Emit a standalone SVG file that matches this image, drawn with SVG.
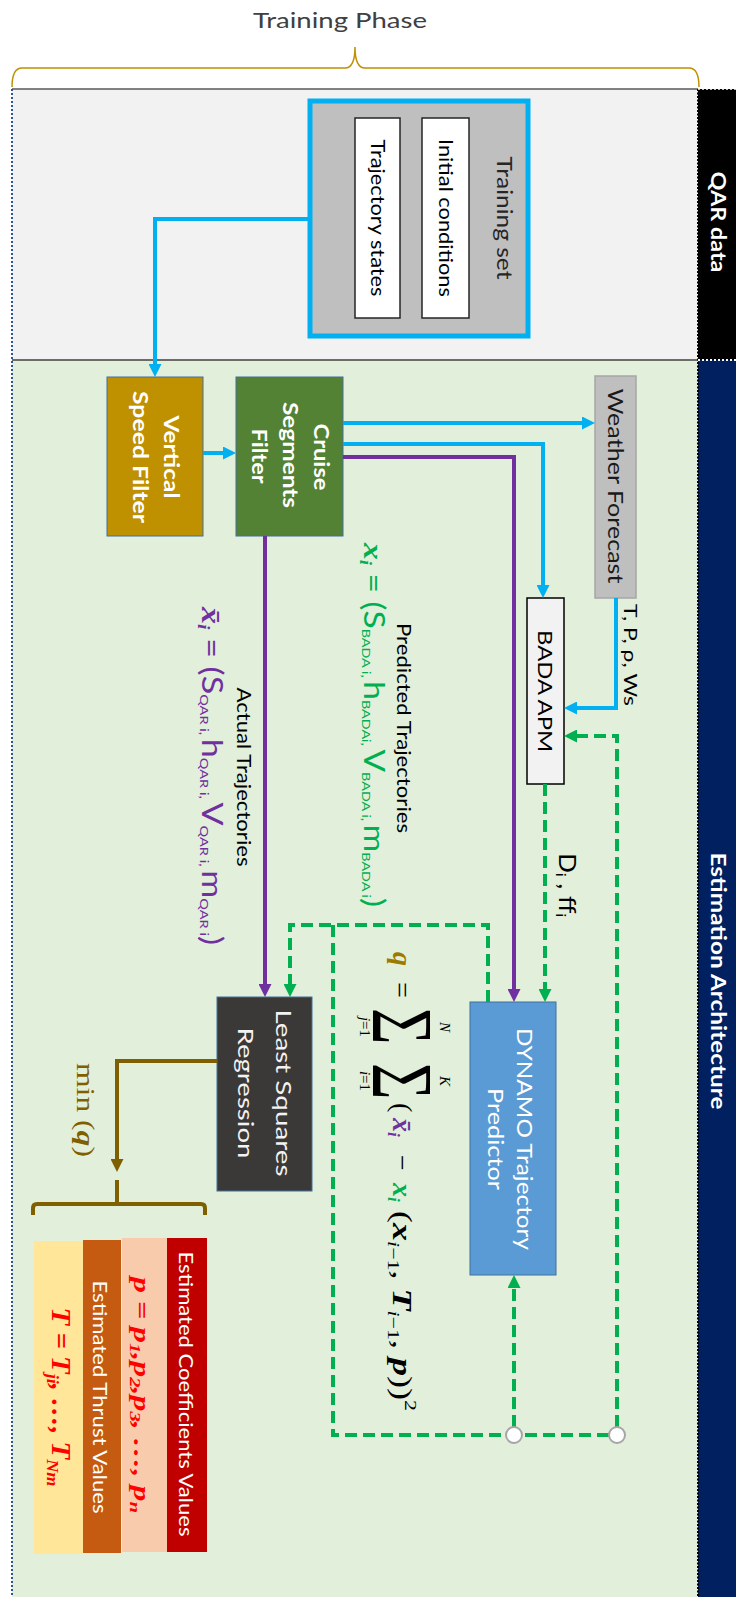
<svg xmlns="http://www.w3.org/2000/svg" width="736" height="1597" viewBox="0 0 736 1597">
<defs>
<style>
.lbl{font-family:Lato,'Liberation Sans',sans-serif;text-anchor:middle;dominant-baseline:central}
.w{fill:#fff}
.k{fill:#000}
.b{font-weight:bold}
.math{font-family:'Liberation Serif','DejaVu Serif',serif}
.bi{font-weight:bold;font-style:italic}
.it{font-style:italic}
.blue{fill:none;stroke:#00b0f0;stroke-width:4}
.purp{fill:none;stroke:#7030a0;stroke-width:4}
.gd{fill:none;stroke:#00b050;stroke-width:4;stroke-dasharray:12 6}
.brn{fill:none;stroke:#7f6000;stroke-width:4}
</style>
<marker id="ab" markerUnits="userSpaceOnUse" markerWidth="13" markerHeight="13" viewBox="0 0 13 13" refX="3" refY="6.5" orient="auto"><path d="M0,0 L13,6.5 L0,13 z" fill="#00b0f0"/></marker>
<marker id="ap" markerUnits="userSpaceOnUse" markerWidth="13" markerHeight="13" viewBox="0 0 13 13" refX="3" refY="6.5" orient="auto"><path d="M0,0 L13,6.5 L0,13 z" fill="#7030a0"/></marker>
<marker id="ag" markerUnits="userSpaceOnUse" markerWidth="13" markerHeight="13" viewBox="0 0 13 13" refX="3" refY="6.5" orient="auto"><path d="M0,0 L13,6.5 L0,13 z" fill="#00b050"/></marker>
<marker id="an" markerUnits="userSpaceOnUse" markerWidth="13" markerHeight="13" viewBox="0 0 13 13" refX="3" refY="6.5" orient="auto"><path d="M0,0 L13,6.5 L0,13 z" fill="#7f6000"/></marker>
</defs>
<rect x="0" y="0" width="736" height="1597" fill="#fff"/>

<g id="training-phase">
<text x="340" y="28" font-family="Lato,'Liberation Sans',sans-serif" font-size="22" fill="#404040" text-anchor="middle" textLength="174" lengthAdjust="spacingAndGlyphs">Training Phase</text>
<path d="M12,87 Q12,68 22,68 H345 Q355,68 355,47 Q355,68 365,68 H689 Q699,68 699,87" fill="none" stroke="#bf9000" stroke-width="1.5"/>
</g>

<g id="panels">
<rect x="12" y="89" width="686" height="271" fill="#f2f2f2"/>
<rect x="12" y="360" width="686" height="1237" fill="#e2efda"/>
<line x1="12" y1="89" x2="698" y2="89" stroke="#595959" stroke-width="1.5"/>
<line x1="12" y1="360" x2="698" y2="360" stroke="#404040" stroke-width="1.5"/>
<line x1="12" y1="89" x2="12" y2="1597" stroke="#2f5597" stroke-width="2" stroke-dasharray="2 2"/>
<rect x="698" y="89" width="38" height="271" fill="#000"/>
<rect x="698" y="360" width="38" height="1237" fill="#002060"/>
<line x1="698" y1="89" x2="698" y2="1597" stroke="#000" stroke-width="2" stroke-dasharray="2 1.5"/>
<line x1="698" y1="89" x2="736" y2="89" stroke="#fff" stroke-width="1.5" stroke-dasharray="2 2"/>
<line x1="698" y1="360" x2="736" y2="360" stroke="#fff" stroke-width="2" stroke-dasharray="2 2"/>
<text class="lbl w b" font-size="21" transform="translate(719,222) rotate(90)" textLength="101" lengthAdjust="spacingAndGlyphs">QAR data</text>
<text class="lbl w b" font-size="21" transform="translate(719,981) rotate(90)" textLength="257" lengthAdjust="spacingAndGlyphs">Estimation Architecture</text>
</g>

<g id="training-set">
<rect x="310" y="101" width="218" height="235" fill="#bfbfbf" stroke="#00b0f0" stroke-width="5"/>
<text class="lbl" fill="#262626" font-size="21" transform="translate(505,218) rotate(90)" textLength="123" lengthAdjust="spacingAndGlyphs">Training set</text>
</g>
<g id="initial-conditions">
<rect x="422" y="118" width="47" height="200" fill="#fff" stroke="#262626" stroke-width="1.5"/>
<text class="lbl k" font-size="19" transform="translate(446,218) rotate(90)" textLength="158" lengthAdjust="spacingAndGlyphs">Initial conditions</text>
</g>
<g id="trajectory-states">
<rect x="355" y="118" width="45" height="200" fill="#fff" stroke="#262626" stroke-width="1.5"/>
<text class="lbl k" font-size="19" transform="translate(378,218) rotate(90)" textLength="157" lengthAdjust="spacingAndGlyphs">Trajectory states</text>
</g>

<g id="vertical-speed-filter">
<rect x="107" y="377" width="96" height="159" fill="#bf9000" stroke="#41719c" stroke-width="1"/>
<text class="lbl w b" font-size="21" transform="translate(172,457) rotate(90)" textLength="83" lengthAdjust="spacingAndGlyphs">Vertical</text>
<text class="lbl w b" font-size="21" transform="translate(141,457) rotate(90)" textLength="132" lengthAdjust="spacingAndGlyphs">Speed Filter</text>
</g>
<g id="cruise-segments-filter">
<rect x="236" y="377" width="107" height="159" fill="#548235" stroke="#41719c" stroke-width="1"/>
<text class="lbl w b" font-size="21" transform="translate(322,457) rotate(90)" textLength="67" lengthAdjust="spacingAndGlyphs">Cruise</text>
<text class="lbl w b" font-size="21" transform="translate(291,455) rotate(90)" textLength="106" lengthAdjust="spacingAndGlyphs">Segments</text>
<text class="lbl w b" font-size="21" transform="translate(260,456) rotate(90)" textLength="55" lengthAdjust="spacingAndGlyphs">Filter</text>
</g>
<g id="weather-forecast">
<rect x="595" y="376" width="41" height="222" fill="#bfbfbf" stroke="#a6a6a6" stroke-width="1.5"/>
<text class="lbl" fill="#1a1a1a" font-size="22" transform="translate(616,486) rotate(90)" textLength="195" lengthAdjust="spacingAndGlyphs">Weather Forecast</text>
</g>
<g id="bada-apm">
<rect x="527" y="598" width="37" height="186" fill="#f2f2f2" stroke="#000" stroke-width="1.5"/>
<text class="lbl k" font-size="20" transform="translate(546,691) rotate(90)" textLength="122" lengthAdjust="spacingAndGlyphs">BADA APM</text>
</g>
<g id="dynamo">
<rect x="470" y="1002" width="86" height="273" fill="#5b9bd5" stroke="#41719c" stroke-width="1"/>
<text class="lbl w" font-size="22" transform="translate(525,1139) rotate(90)" textLength="222" lengthAdjust="spacingAndGlyphs">DYNAMO Trajectory</text>
<text class="lbl w" font-size="22" transform="translate(496,1139) rotate(90)" textLength="102" lengthAdjust="spacingAndGlyphs">Predictor</text>
</g>
<g id="least-squares">
<rect x="217" y="997" width="95" height="194" fill="#3b3838" stroke="#41719c" stroke-width="1"/>
<text class="lbl" fill="#f2f2f2" font-size="22" transform="translate(284,1093) rotate(90)" textLength="167" lengthAdjust="spacingAndGlyphs">Least Squares</text>
<text class="lbl" fill="#f2f2f2" font-size="22" transform="translate(246,1093) rotate(90)" textLength="131" lengthAdjust="spacingAndGlyphs">Regression</text>
</g>

<g id="results">
<rect x="34" y="1241" width="49" height="313" fill="#ffe699"/>
<rect x="83" y="1240" width="38" height="313" fill="#c55a11"/>
<rect x="122" y="1238" width="45" height="314" fill="#f8cbad"/>
<rect x="167" y="1238" width="40" height="314" fill="#c00000"/>
<text class="lbl w" font-size="19" transform="translate(186,1394) rotate(90)" textLength="285" lengthAdjust="spacingAndGlyphs">Estimated Coefficients Values</text>
<text class="lbl w" font-size="19" transform="translate(100,1397) rotate(90)" textLength="233" lengthAdjust="spacingAndGlyphs">Estimated Thrust Values</text>
<text class="math bi" fill="#ff0000" font-size="23" text-anchor="middle" transform="translate(134,1395) rotate(90)" textLength="236" lengthAdjust="spacingAndGlyphs">p = p<tspan font-size="15" dy="4">1</tspan><tspan dy="-4">,p</tspan><tspan font-size="15" dy="4">2</tspan><tspan dy="-4">,p</tspan><tspan font-size="15" dy="4">3</tspan><tspan dy="-4">, …, p</tspan><tspan font-size="15" dy="4">n</tspan></text>
<text class="math bi" fill="#ff0000" font-size="27" text-anchor="middle" transform="translate(52,1397) rotate(90)" textLength="179" lengthAdjust="spacingAndGlyphs">T = T<tspan font-size="17" dy="5">ji</tspan><tspan dy="-5">, …, T</tspan><tspan font-size="17" dy="5">Nm</tspan></text>
</g>

<g id="labels">
<text font-family="Lato,'Liberation Sans',sans-serif" font-size="17" fill="#000" text-anchor="middle" transform="translate(624,655) rotate(90)" textLength="102" lengthAdjust="spacingAndGlyphs">T, P, ρ, Ws</text>
<text font-family="Lato,'Liberation Sans',sans-serif" font-size="23" fill="#000" text-anchor="middle" transform="translate(559,885) rotate(90)" textLength="64" lengthAdjust="spacingAndGlyphs">D<tspan font-size="13" dy="3">i</tspan><tspan dy="-3"> , ff</tspan><tspan font-size="13" dy="3">i</tspan></text>
<text class="lbl k" font-size="19" transform="translate(404,728) rotate(90)" textLength="210" lengthAdjust="spacingAndGlyphs">Predicted Trajectories</text>
<text class="lbl k" font-size="19" transform="translate(244,777) rotate(90)" textLength="179" lengthAdjust="spacingAndGlyphs">Actual Trajectories</text>
<text font-family="Lato,'Liberation Sans',sans-serif" font-size="28" fill="#00b050" text-anchor="middle" transform="translate(364,725) rotate(90)" textLength="364" lengthAdjust="spacingAndGlyphs"><tspan class="math bi">x</tspan><tspan class="math bi" font-size="16" dy="4">i</tspan><tspan dy="-4"> = (S</tspan><tspan font-size="12" dy="2">BADA i, </tspan><tspan dy="-2">h</tspan><tspan font-size="12" dy="2">BADAi, </tspan><tspan dy="-2">V</tspan><tspan font-size="12" dy="2">BADA i, </tspan><tspan dy="-2">m</tspan><tspan font-size="12" dy="2">BADA i</tspan><tspan dy="-2">)</tspan></text>
<text font-family="Lato,'Liberation Sans',sans-serif" font-size="28" fill="#7030a0" text-anchor="middle" transform="translate(202,776) rotate(90)" textLength="338" lengthAdjust="spacingAndGlyphs"><tspan class="math bi">x̄</tspan><tspan class="math bi" font-size="16" dy="4">i</tspan><tspan dy="-4"> = (S</tspan><tspan font-size="12" dy="2">QAR i, </tspan><tspan dy="-2">h</tspan><tspan font-size="12" dy="2">QAR i, </tspan><tspan dy="-2">V</tspan><tspan font-size="12" dy="2">QAR i, </tspan><tspan dy="-2">m</tspan><tspan font-size="12" dy="2">QAR i</tspan><tspan dy="-2">)</tspan></text>
<text class="math" font-size="26" fill="#7f6000" transform="translate(77,1063) rotate(90)" textLength="94" lengthAdjust="spacingAndGlyphs">min (<tspan class="bi">q</tspan>)</text>
</g>

<g id="formula-q" class="math" font-size="28" fill="#000" transform="translate(393,0) rotate(90)">
<text x="952" y="0" class="bi" fill="#9c7a00">q</text>
<text x="982" y="0">=</text>
<text transform="translate(1008,20) scale(1.12,1.55)" font-size="56">Σ</text>
<text x="1027" y="-47" font-size="15" class="it" text-anchor="middle">N</text>
<text x="1027" y="33" font-size="15" text-anchor="middle"><tspan class="it">j</tspan>=1</text>
<text transform="translate(1063,20) scale(1.12,1.55)" font-size="56">Σ</text>
<text x="1081" y="-47" font-size="15" class="it" text-anchor="middle">K</text>
<text x="1081" y="33" font-size="15" text-anchor="middle"><tspan class="it">i</tspan>=1</text>
<text x="1103" y="0">(</text>
<text x="1118" y="0" class="bi" fill="#7030a0">x̄<tspan font-size="17" dy="5">i</tspan></text>
<text x="1155" y="0">−</text>
<text x="1183" y="0" class="bi" fill="#00b050">x<tspan font-size="17" dy="5">i</tspan></text>
<text x="1211" y="0" textLength="200" lengthAdjust="spacingAndGlyphs">(<tspan class="bi">x</tspan><tspan font-size="17" dy="5" class="it">i</tspan><tspan font-size="17">−1</tspan><tspan dy="-5">, </tspan><tspan class="bi">T</tspan><tspan font-size="17" dy="5" class="it">i</tspan><tspan font-size="17">−1</tspan><tspan dy="-5">, </tspan><tspan class="bi">p</tspan>))<tspan font-size="17" dy="-12">2</tspan></text>
</g>

<g id="connectors">
<path class="blue" d="M310,219 H155 V367" marker-end="url(#ab)"/>
<path class="blue" d="M203,453 H226" marker-end="url(#ab)"/>
<path class="blue" d="M343,423 H585" marker-end="url(#ab)"/>
<path class="blue" d="M343,444 H543 V588" marker-end="url(#ab)"/>
<path class="blue" d="M616,598 V708 H574" marker-end="url(#ab)"/>
<path class="purp" d="M343,457 H514 V992" marker-end="url(#ap)"/>
<path class="purp" d="M265,536 V987" marker-end="url(#ap)"/>
<path class="gd" d="M617,1427 V736 H574" marker-end="url(#ag)"/>
<path class="gd" d="M545,784 V992" marker-end="url(#ag)"/>
<path class="gd" d="M488,1002 V925 H290 V987" marker-end="url(#ag)"/>
<path class="gd" d="M333,925 V1435 H617"/>
<path class="gd" d="M514,1427 V1285" marker-end="url(#ag)"/>
<circle cx="514" cy="1435" r="8" fill="#fff" stroke="#a6a6a6" stroke-width="2"/>
<circle cx="617" cy="1435" r="8" fill="#fff" stroke="#a6a6a6" stroke-width="2"/>
<path class="brn" d="M217,1061 H117 V1162" marker-end="url(#an)"/>
<path class="brn" d="M117,1180 V1204"/>
<path class="brn" d="M33,1215 V1208 Q33,1204 37,1204 H201 Q205,1204 205,1208 V1215"/>
</g>
</svg>
